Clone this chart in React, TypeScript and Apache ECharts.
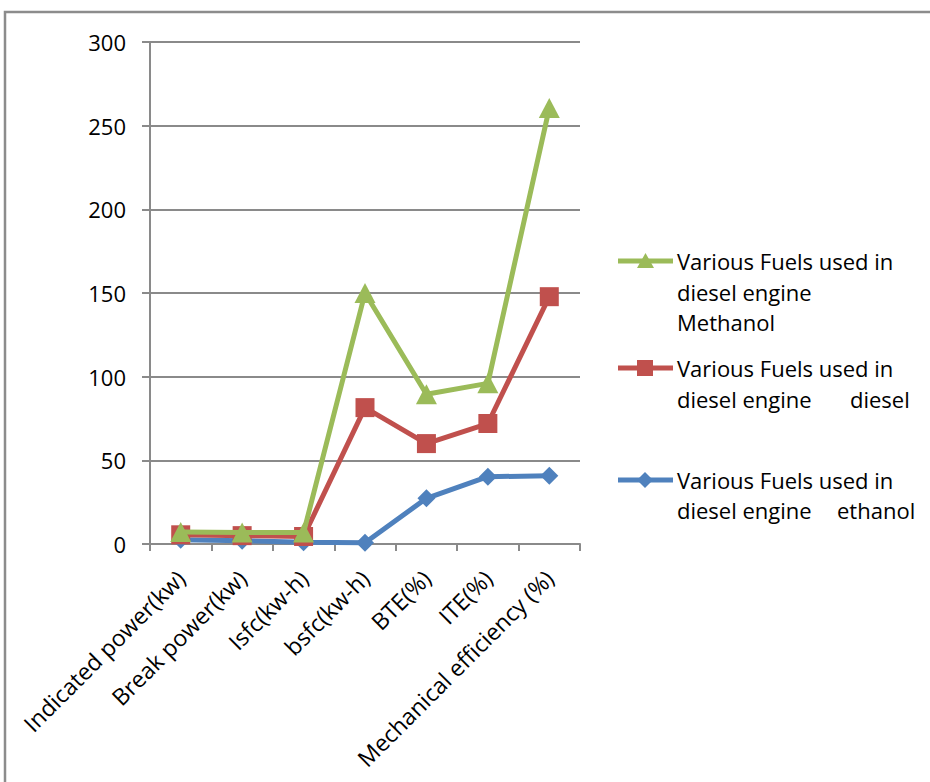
import React, { useEffect, useRef } from "react";
import * as echarts from "echarts";

const categories = [
  "Indicated power(kw)",
  "Break power(kw)",
  "Isfc(kw-h)",
  "bsfc(kw-h)",
  "BTE(%)",
  "ITE(%)",
  "Mechanical efficiency (%)",
];
const ethanolValues = [2.5, 2, 1, 0.8, 27.3, 40.2, 40.8];
const dieselValues = [5.5, 5, 4.5, 81.5, 60, 72, 147.8];
const methanolValues = [7.2, 6.8, 6.8, 150, 89.5, 96, 260.5];
const yTicks = { min: 0, max: 300, interval: 50 };

const GREEN = "#9BBB59";
const RED = "#C0504D";
const BLUE = "#4F81BD";
const FONT = "'Open Sans', sans-serif";

export default function App() {
  const ref = useRef<HTMLDivElement>(null);
  useEffect(() => {
    const chart = echarts.init(ref.current!, null, { renderer: "svg" });
    const textStyle = { fontFamily: FONT, fontSize: 22, fill: "#000" };
    const legendItem = (
      y: number,
      color: string,
      marker: any,
      lines: { text: string; x: number; y: number }[]
    ) => [
      { type: "line", shape: { x1: 618, y1: y, x2: 673, y2: y }, style: { stroke: color, lineWidth: 5 } },
      marker,
      ...lines.map((l) => ({
        type: "text",
        x: l.x,
        y: l.y,
        style: { ...textStyle, text: l.text, verticalAlign: "middle", align: "left" },
      })),
    ];
    const option: any = {
      animation: false,
      grid: { left: 150, right: 350, top: 42, bottom: 238 },
      xAxis: {
        type: "category",
        data: categories,
        boundaryGap: true,
        axisLine: { lineStyle: { color: "#8a8a8a", width: 2 } },
        axisTick: { show: true, length: 7, lineStyle: { color: "#8a8a8a", width: 2 } },
        axisLabel: {
          rotate: 45,
          color: "#000",
          fontFamily: FONT,
          fontSize: 23,
          margin: 30,
          interval: 0,
        },
      },
      yAxis: {
        type: "value",
        min: yTicks.min,
        max: yTicks.max,
        interval: yTicks.interval,
        axisLine: { show: true, lineStyle: { color: "#8a8a8a", width: 2 } },
        axisTick: { show: true, length: 8, lineStyle: { color: "#8a8a8a", width: 2 } },
        splitLine: { lineStyle: { color: "#8a8a8a", width: 2 } },
        axisLabel: { color: "#000", fontFamily: FONT, fontSize: 22, margin: 24 },
      },
      series: [
        {
          name: "ethanol",
          type: "line",
          data: ethanolValues,
          symbol: "diamond",
          symbolSize: 18,
          lineStyle: { color: BLUE, width: 5 },
          itemStyle: { color: BLUE },
          z: 2,
        },
        {
          name: "diesel",
          type: "line",
          data: dieselValues,
          symbol: "rect",
          symbolSize: 19,
          lineStyle: { color: RED, width: 5 },
          itemStyle: { color: RED },
          z: 3,
        },
        {
          name: "Methanol",
          type: "line",
          data: methanolValues,
          symbol: "triangle",
          symbolSize: [21, 20],
          lineStyle: { color: GREEN, width: 5 },
          itemStyle: { color: GREEN },
          z: 4,
        },
      ],
      graphic: [
        {
          type: "rect",
          shape: { x: 5, y: 12, width: 1000, height: 1000 },
          style: { fill: "none", stroke: "#8c8c8c", lineWidth: 2.5 },
          silent: true,
        },
        ...legendItem(
          261,
          GREEN,
          { type: "polygon", shape: { points: [[645.5, 253], [654, 268], [637, 268]] }, style: { fill: GREEN } },
          [
            { text: "Various Fuels used in", x: 677, y: 261 },
            { text: "diesel engine", x: 677, y: 292 },
            { text: "Methanol", x: 677, y: 322 },
          ]
        ),
        ...legendItem(
          368,
          RED,
          { type: "rect", shape: { x: 637, y: 360, width: 16, height: 16 }, style: { fill: RED } },
          [
            { text: "Various Fuels used in", x: 677, y: 368 },
            { text: "diesel engine", x: 677, y: 399 },
            { text: "diesel", x: 850, y: 399 },
          ]
        ),
        ...legendItem(
          480,
          BLUE,
          { type: "polygon", shape: { points: [[645, 472], [653, 480], [645, 488], [637, 480]] }, style: { fill: BLUE } },
          [
            { text: "Various Fuels used in", x: 677, y: 480 },
            { text: "diesel engine", x: 677, y: 510 },
            { text: "ethanol", x: 837, y: 510 },
          ]
        ),
      ],
    };
    chart.setOption(option);
    return () => chart.dispose();
  }, []);
  return (
    <div
      ref={ref}
      style={{ position: "fixed", left: 0, top: 0, width: 930, height: 782, background: "#fff" }}
    />
  );
}
